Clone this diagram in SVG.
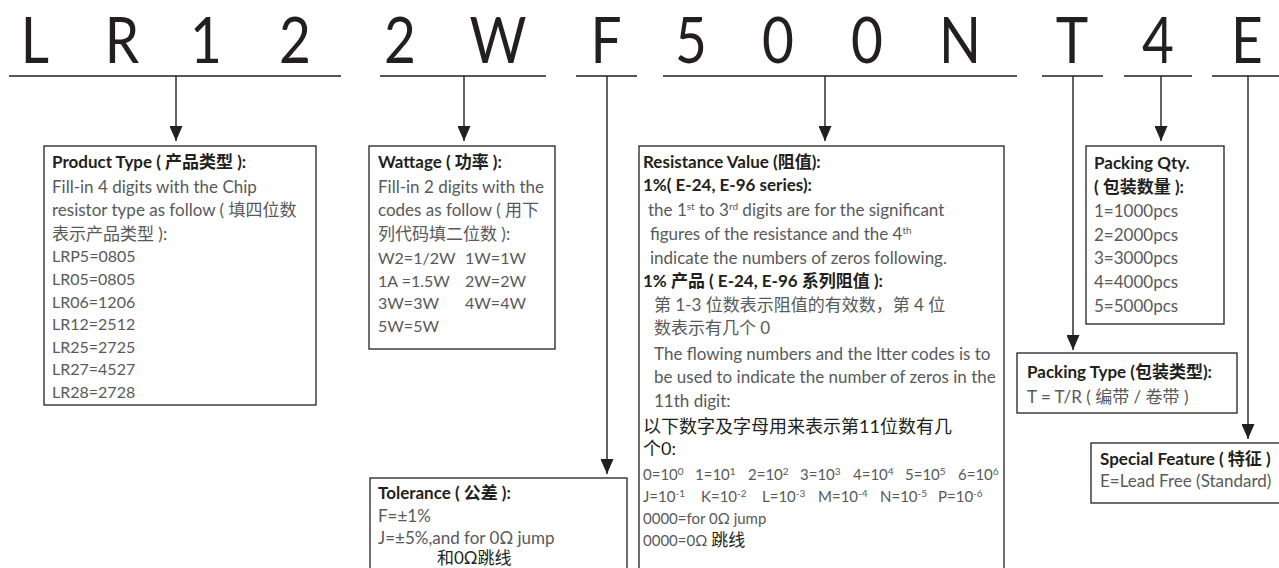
<svg xmlns="http://www.w3.org/2000/svg" width="1279" height="568" viewBox="0 0 1279 568">
<defs>
<marker id="ah" markerUnits="userSpaceOnUse" markerWidth="15" markerHeight="13" refX="15" refY="6.5" orient="auto">
<path d="M0,0 L15,6.5 L0,13 z" fill="#231f20"/>
</marker>
<style>
.big{font-family:Lato,"Noto Sans",sans-serif;font-size:64px;fill:#231f20;text-anchor:middle}
.t{font-family:Lato,"Noto Sans CJK SC",sans-serif;font-size:17px;fill:#58595b}
.s{font-size:16px}
.h{font-family:Lato,"Noto Sans CJK SC",sans-serif;font-size:17px;font-weight:bold;fill:#231f20}
.box{fill:#fff;stroke:#231f20;stroke-width:1.3}
.ln{stroke:#231f20;stroke-width:1.4;fill:none}
.ul{stroke:#231f20;stroke-width:1.6;fill:none}
.sup{font-size:10px}
</style>
</defs>
<rect width="1279" height="568" fill="#fff"/>
<g id="code">
<text class="big" transform="translate(35,63) scale(0.86,1)">L</text>
<text class="big" transform="translate(122,63) scale(0.86,1)">R</text>
<text class="big" transform="translate(206,63) scale(0.86,1)">1</text>
<text class="big" transform="translate(295,63) scale(0.86,1)">2</text>
<text class="big" transform="translate(400,63) scale(0.86,1)">2</text>
<text class="big" transform="translate(498,63) scale(0.86,1)">W</text>
<text class="big" transform="translate(606,63) scale(0.86,1)">F</text>
<text class="big" transform="translate(691,63) scale(0.86,1)">5</text>
<text class="big" transform="translate(778,63) scale(0.86,1)">0</text>
<text class="big" transform="translate(867,63) scale(0.86,1)">0</text>
<text class="big" transform="translate(960,63) scale(0.86,1)">N</text>
<text class="big" transform="translate(1072,63) scale(0.86,1)">T</text>
<text class="big" transform="translate(1158,63) scale(0.86,1)">4</text>
<text class="big" transform="translate(1247,63) scale(0.86,1)">E</text>
</g>
<g id="connectors">
<path class="ul" d="M9,76H341 M380,76H546 M576,76H637 M663,76H1017 M1042,76H1103 M1124,76H1192 M1212,76H1279"/>
<line class="ln" x1="176" y1="76" x2="176" y2="141" marker-end="url(#ah)"/>
<line class="ln" x1="464" y1="76" x2="464" y2="141" marker-end="url(#ah)"/>
<line class="ln" x1="607" y1="76" x2="607" y2="474" marker-end="url(#ah)"/>
<line class="ln" x1="825" y1="76" x2="825" y2="141" marker-end="url(#ah)"/>
<line class="ln" x1="1073" y1="76" x2="1073" y2="350" marker-end="url(#ah)"/>
<line class="ln" x1="1161" y1="76" x2="1161" y2="141" marker-end="url(#ah)"/>
<line class="ln" x1="1248" y1="76" x2="1248" y2="439" marker-end="url(#ah)"/>
</g>
<g id="product-type">
<rect class="box" x="44" y="146" width="272" height="259"/>
<text class="h" x="52" y="168">Product Type ( 产品类型 ):</text>
<text class="t" x="52" y="193">Fill-in 4 digits with the Chip</text>
<text class="t" x="52" y="216">resistor type as follow ( 填四位数</text>
<text class="t" x="52" y="240">表示产品类型 ):</text>
<text class="t s" x="52" y="262">LRP5=0805</text>
<text class="t s" x="52" y="285">LR05=0805</text>
<text class="t s" x="52" y="308">LR06=1206</text>
<text class="t s" x="52" y="330">LR12=2512</text>
<text class="t s" x="52" y="353">LR25=2725</text>
<text class="t s" x="52" y="375">LR27=4527</text>
<text class="t s" x="52" y="398">LR28=2728</text>
</g>
<g id="wattage">
<rect class="box" x="369" y="146" width="186" height="203"/>
<text class="h" x="378" y="168">Wattage ( 功率 ):</text>
<text class="t" x="378" y="193">Fill-in 2 digits with the</text>
<text class="t" x="378" y="216">codes as follow ( 用下</text>
<text class="t" x="378" y="240">列代码填二位数 ):</text>
<text class="t s" x="378" y="264">W2=1/2W</text><text class="t s" x="465" y="264">1W=1W</text>
<text class="t s" x="378" y="287">1A =1.5W</text><text class="t s" x="465" y="287">2W=2W</text>
<text class="t s" x="378" y="309">3W=3W</text><text class="t s" x="465" y="309">4W=4W</text>
<text class="t s" x="378" y="332">5W=5W</text>
</g>
<g id="tolerance">
<rect class="box" x="370" y="478" width="257" height="130"/>
<text class="h" x="378" y="499">Tolerance ( 公差 ):</text>
<text class="t" x="378" y="522">F=±1%</text>
<text class="t" x="378" y="544">J=±5%,and for 0Ω jump</text>
<text class="h" x="437" y="564" style="font-weight:normal">和0Ω跳线</text>
</g>
<g id="resistance-value">
<rect class="box" x="639" y="146" width="365" height="462"/>
<text class="h" x="643" y="168">Resistance Value (阻值):</text>
<text class="h" x="643" y="191">1%( E-24, E-96 series):</text>
<text class="t" x="648" y="216">the 1<tspan class="sup" dy="-6">st</tspan><tspan dy="6"> to 3</tspan><tspan class="sup" dy="-6">rd</tspan><tspan dy="6"> digits are for the significant</tspan></text>
<text class="t" x="650" y="240">figures of the resistance and the 4<tspan class="sup" dy="-6">th</tspan></text>
<text class="t" x="650" y="264">indicate the numbers of zeros following.</text>
<text class="h" x="643" y="287">1% 产品 ( E-24, E-96 系列阻值 ):</text>
<text class="t" x="654" y="311">第 1-3 位数表示阻值的有效数，第 4 位</text>
<text class="t" x="654" y="334">数表示有几个 0</text>
<text class="t" x="654" y="360">The flowing numbers and the ltter codes is to</text>
<text class="t" x="654" y="383">be used to indicate the number of zeros in the</text>
<text class="t" x="654" y="407">11th digit:</text>
<text class="h" x="643" y="433" style="font-size:18px;font-weight:normal">以下数字及字母用来表示第11位数有几</text>
<text class="h" x="643" y="455" style="font-size:18px;font-weight:normal">个0:</text>
<g class="t" style="font-size:15px">
<text x="643" y="480">0=10<tspan class="sup" dy="-5">0</tspan></text>
<text x="695" y="480">1=10<tspan class="sup" dy="-5">1</tspan></text>
<text x="748" y="480">2=10<tspan class="sup" dy="-5">2</tspan></text>
<text x="800" y="480">3=10<tspan class="sup" dy="-5">3</tspan></text>
<text x="853" y="480">4=10<tspan class="sup" dy="-5">4</tspan></text>
<text x="905" y="480">5=10<tspan class="sup" dy="-5">5</tspan></text>
<text x="958" y="480">6=10<tspan class="sup" dy="-5">6</tspan></text>
<text x="643" y="502">J=10<tspan class="sup" dy="-5">-1</tspan></text>
<text x="701" y="502">K=10<tspan class="sup" dy="-5">-2</tspan></text>
<text x="762" y="502">L=10<tspan class="sup" dy="-5">-3</tspan></text>
<text x="818" y="502">M=10<tspan class="sup" dy="-5">-4</tspan></text>
<text x="880" y="502">N=10<tspan class="sup" dy="-5">-5</tspan></text>
<text x="938" y="502">P=10<tspan class="sup" dy="-5">-6</tspan></text>
<text x="643" y="524">0000=for 0Ω jump</text>
<text x="643" y="546">0000=0Ω <tspan style="fill:#231f20;font-size:17px">跳线</tspan></text>
</g>
</g>
<g id="packing-qty">
<rect class="box" x="1086" y="146" width="138" height="178"/>
<text class="h" x="1094" y="169">Packing Qty.</text>
<text class="h" x="1094" y="193">( 包装数量 ):</text>
<text class="t" x="1094" y="217">1=1000pcs</text>
<text class="t" x="1094" y="241">2=2000pcs</text>
<text class="t" x="1094" y="264">3=3000pcs</text>
<text class="t" x="1094" y="288">4=4000pcs</text>
<text class="t" x="1094" y="312">5=5000pcs</text>
</g>
<g id="packing-type">
<rect class="box" x="1017" y="353" width="220" height="60"/>
<text class="h" x="1027" y="378">Packing Type (包装类型):</text>
<text class="t" x="1027" y="403">T = T/R ( 编带 / 卷带 )</text>
</g>
<g id="special-feature">
<rect class="box" x="1091" y="443" width="200" height="60"/>
<text class="h" x="1100" y="465">Special Feature ( 特征 )</text>
<text class="t" x="1100" y="487">E=Lead Free (Standard)</text>
</g>
</svg>
